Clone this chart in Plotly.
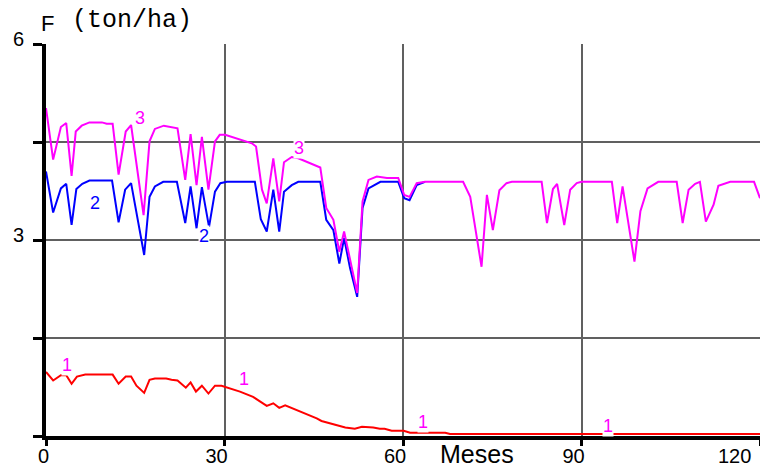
import plotly.graph_objects as go

# Series 3 (magenta)
t3 = [0.0, 1.2, 2.5, 3.4, 4.3, 5.0, 6.0, 7.3, 9.4, 10.2, 11.2, 12.2, 13.4, 14.3, 16.4, 17.4, 18.3, 19.8,
      22.1, 23.4, 24.3, 25.3, 26.2, 27.3, 28.4, 29.2, 30.1, 34.6, 35.3, 36.3, 37.1, 38.2, 39.2, 40.0,
      41.3, 42.4, 46.1, 47.1, 48.3, 49.3, 50.1, 51.1, 52.3, 53.2, 54.2, 55.6, 57.3, 59.2, 60.2, 61.1,
      62.3, 63.7, 70.1, 71.3, 73.2, 74.1, 75.1, 76.2, 77.4, 78.3, 83.3, 84.2, 85.2, 85.9, 87.1, 88.1,
      89.2, 90.0, 95.1, 96.0, 96.9, 98.9, 99.9, 101.1, 102.9, 106.0, 107.0, 108.0, 109.1, 109.9, 110.9,
      112.2, 113.0, 115.0, 119.0, 120.0]
f3 = [5.02, 4.23, 4.73, 4.79, 3.98, 4.66, 4.75, 4.80, 4.80, 4.78, 4.78, 4.00, 4.66, 4.76, 3.38, 4.51, 4.70, 4.75,
      4.71, 3.92, 4.62, 3.84, 4.58, 3.77, 4.51, 4.61, 4.61, 4.48, 4.43, 3.77, 3.56, 4.25, 3.59, 4.19,
      4.27, 4.25, 4.11, 3.49, 3.31, 2.82, 3.13, 2.70, 2.19, 3.59, 3.92, 3.97, 3.95, 3.95, 3.69, 3.66,
      3.87, 3.89, 3.89, 3.66, 2.59, 3.69, 3.15, 3.76, 3.87, 3.89, 3.89, 3.26, 3.78, 3.86, 3.23, 3.77,
      3.87, 3.89, 3.89, 3.26, 3.82, 2.67, 3.44, 3.79, 3.89, 3.89, 3.26, 3.77, 3.86, 3.89, 3.28,
      3.54, 3.83, 3.89, 3.89, 3.64]

# Series 2 (blue)
t2 = [0.0, 1.2, 2.5, 3.4, 4.3, 5.1, 6.1, 7.3, 11.1, 12.2, 13.3, 14.3, 16.5, 17.4, 18.3, 19.7, 22.0, 23.4,
      24.3, 25.3, 26.2, 27.4, 28.4, 29.3, 30.4, 35.1, 36.1, 37.1, 38.2, 39.2, 40.0, 41.3, 42.4, 46.1,
      47.1, 48.3, 49.3, 50.1, 51.1, 52.3, 53.2, 54.2, 56.2, 59.2, 60.2, 61.1, 62.3, 63.7]
f2 = [4.05, 3.42, 3.79, 3.86, 3.23, 3.78, 3.86, 3.91, 3.91, 3.27, 3.77, 3.87, 2.77, 3.66, 3.82, 3.89, 3.89, 3.26,
      3.82, 3.18, 3.81, 3.20, 3.74, 3.87, 3.89, 3.89, 3.32, 3.13, 3.77, 3.13, 3.74, 3.84, 3.89, 3.89,
      3.31, 3.15, 2.64, 3.03, 2.57, 2.13, 3.49, 3.79, 3.89, 3.89, 3.64, 3.61, 3.84, 3.89]

# Series 1 (red)
t1 = [0.0, 1.2, 2.5, 3.4, 4.3, 5.2, 6.6, 11.2, 12.2, 13.4, 14.3, 15.2, 16.5, 17.4, 18.3, 20.2, 21.1, 22.1,
      23.5, 24.3, 25.2, 26.2, 27.3, 28.4, 29.5, 32.6, 34.8, 37.1, 38.2, 39.2, 40.2, 41.6, 43.2, 44.7,
      45.5, 46.3, 48.3, 50.3, 51.9, 53.1, 55.0, 56.1, 56.9, 58.1, 60.1, 61.2, 64.3, 67.1, 67.9, 120.0]
f1 = [0.98, 0.85, 0.93, 0.93, 0.80, 0.91, 0.94, 0.94, 0.80, 0.91, 0.91, 0.77, 0.66, 0.86, 0.88, 0.88, 0.86, 0.85,
      0.74, 0.82, 0.68, 0.77, 0.65, 0.77, 0.77, 0.68, 0.60, 0.46, 0.50, 0.43, 0.47, 0.42, 0.36, 0.30,
      0.27, 0.23, 0.18, 0.13, 0.11, 0.14, 0.13, 0.11, 0.11, 0.08, 0.08, 0.05, 0.05, 0.05, 0.03, 0.03]

# Curve labels
lab_text = ["1", "1", "1", "1", "2", "2", "3", "3"]
lab_x = [3.6, 33.3, 63.3, 94.5, 8.2, 26.5, 15.8, 42.5]
lab_y = [1.09, 0.865, 0.22, 0.16, 3.57, 3.06, 4.87, 4.41]
lab_col = ["#FF00FF", "#FF00FF", "#FF00FF", "#FF00FF", "#0000FF", "#0000FF", "#FF00FF", "#FF00FF"]

x_ticks = [0, 30, 60, 90, 120]
x_ticktext = ["\u20070", "30", "60", "90", ""]
y_ticks = [0, 1.5, 3, 4.5, 6]
y_ticktext = ["", "", "3", "", "6"]

SANS = "Arial, Liberation Sans, sans-serif"

fig = go.Figure()
fig.add_trace(go.Scatter(x=t1, y=f1, mode="lines", line=dict(color="#FF0000", width=2), hoverinfo="skip"))
fig.add_trace(go.Scatter(x=t2, y=f2, mode="lines", line=dict(color="#0000FF", width=2), hoverinfo="skip"))
fig.add_trace(go.Scatter(x=t3, y=f3, mode="lines", line=dict(color="#FF00FF", width=2), hoverinfo="skip"))

for s, xx, yy, c in zip(lab_text, lab_x, lab_y, lab_col):
    fig.add_annotation(x=xx, y=yy, xref="x", yref="y", text=s, showarrow=False,
                       font=dict(family=SANS, size=18, color=c), bgcolor="white", borderpad=0)

fig.add_annotation(x=120, y=0, xref="x", yref="paper", text="120", showarrow=False,
                   xanchor="right", yanchor="top", xshift=-7, yshift=-7,
                   font=dict(family=SANS, size=20, color="black"))
fig.add_annotation(x=0.604, y=-0.046, xref="paper", yref="paper", text="Meses", showarrow=False,
                   xanchor="center", yanchor="middle", font=dict(family=SANS, size=25, color="black"))
fig.add_annotation(x=0.002, y=1.053, xref="paper", yref="paper", text="F", showarrow=False,
                   xanchor="center", yanchor="middle", font=dict(family=SANS, size=22, color="black"))
fig.add_annotation(x=0.1205, y=1.059, xref="paper", yref="paper", text="(ton/ha)", showarrow=False,
                   xanchor="center", yanchor="middle", font=dict(family="Liberation Mono, Courier New, monospace", size=25, color="black"))

fig.update_layout(
    width=760, height=468,
    margin=dict(l=46, r=0, t=44, b=32, autoexpand=False),
    paper_bgcolor="white", plot_bgcolor="white",
    showlegend=False,
)
fig.update_xaxes(range=[0, 120], tickvals=x_ticks, ticktext=x_ticktext, showgrid=True, automargin=False,
                 gridcolor="#606060", gridwidth=2, showline=True, linecolor="black", linewidth=4,
                 ticks="outside", ticklen=6, tickwidth=3, tickcolor="black", zeroline=False,
                 tickfont=dict(family=SANS, size=20, color="black"), ticklabelshift=-8,
                 ticklabelstandoff=-7)
fig.update_yaxes(range=[0, 6], tickvals=y_ticks, ticktext=y_ticktext, showgrid=True, automargin=False,
                 gridcolor="#606060", gridwidth=2, showline=True, linecolor="black", linewidth=4,
                 ticks="outside", ticklen=9, tickwidth=3, tickcolor="black", zeroline=False,
                 tickfont=dict(family=SANS, size=20, color="black"), ticklabelshift=-5,
                 ticklabelstandoff=5)

fig.write_html("out.html")
